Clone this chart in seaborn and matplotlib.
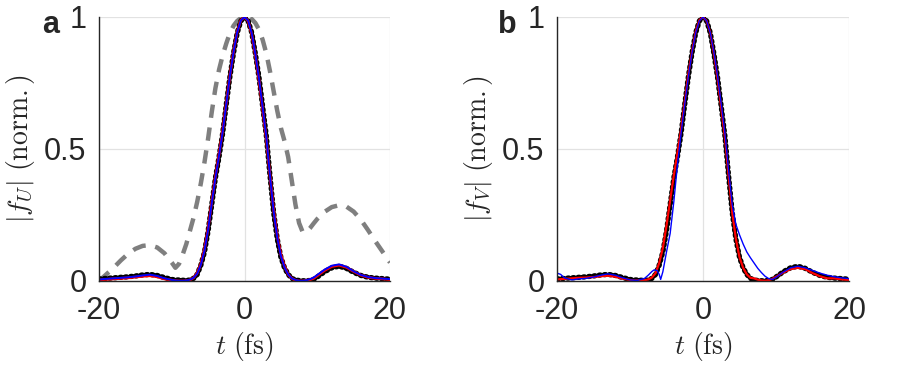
import numpy as np
import pandas as pd
import matplotlib
matplotlib.use("Agg")
import matplotlib.pyplot as plt
import seaborn as sns

# time samples (fs)
t = [-20, -19, -18, -17, -16, -15, -14, -13, -12, -11, -10,
     -9.5, -9, -8.5, -8, -7.5, -7, -6.5, -6, -5.5, -5, -4.5, -4, -3.5, -3, -2.5, -2, -1.5, -1, -0.5,
     0,
     0.5, 1, 1.5, 2, 2.5, 3, 3.5, 4, 4.5, 5, 5.5, 6, 6.5, 7, 7.5, 8, 8.5, 9, 9.5,
     10, 11, 12, 13, 14, 15, 16, 17, 18, 19, 20]

# target pulse (black dots), same in both panels
target = [0.008, 0.010, 0.012, 0.014, 0.016, 0.019, 0.023, 0.025, 0.021, 0.013, 0.006,
          0.004, 0.004, 0.003, 0.002, 0.004, 0.010, 0.025, 0.060, 0.110, 0.190, 0.290, 0.390, 0.470, 0.560, 0.670, 0.775, 0.865, 0.940, 0.985,
          1.0,
          0.985, 0.940, 0.860, 0.770, 0.660, 0.550, 0.400, 0.260, 0.160, 0.090, 0.050, 0.025, 0.010, 0.004, 0.002, 0.001, 0.001, 0.002, 0.006,
          0.015, 0.035, 0.050, 0.056, 0.048, 0.033, 0.021, 0.014, 0.011, 0.009, 0.007]

# panel a
gray_a = [0.0, 0.025, 0.05, 0.078, 0.103, 0.122, 0.133, 0.136, 0.127, 0.105, 0.07,
          0.05, 0.065, 0.1, 0.14, 0.19, 0.24, 0.3, 0.37, 0.45, 0.54, 0.64, 0.73, 0.8, 0.855, 0.9, 0.94, 0.967, 0.985, 0.996,
          1.0,
          1.0, 0.992, 0.977, 0.952, 0.913, 0.862, 0.795, 0.72, 0.645, 0.58, 0.53, 0.47, 0.38, 0.29, 0.22, 0.185, 0.185, 0.2, 0.218,
          0.235, 0.262, 0.28, 0.287, 0.282, 0.263, 0.232, 0.192, 0.15, 0.11, 0.07]
red_a = [0.004, 0.006, 0.008, 0.010, 0.012, 0.015, 0.018, 0.020, 0.016, 0.008, 0.003,
         0.001, 0.0, 0.0, 0.001, 0.004, 0.012, 0.030, 0.065, 0.120, 0.200, 0.300, 0.395, 0.480, 0.570, 0.675, 0.780, 0.870, 0.945, 0.988,
         1.0,
         0.985, 0.935, 0.855, 0.760, 0.650, 0.540, 0.400, 0.270, 0.170, 0.100, 0.055, 0.025, 0.010, 0.003, 0.0, 0.0, 0.002, 0.005, 0.010,
         0.020, 0.040, 0.055, 0.060, 0.052, 0.036, 0.022, 0.014, 0.010, 0.008, 0.005]
blue_a = [0.006, 0.008, 0.010, 0.012, 0.014, 0.017, 0.021, 0.024, 0.019, 0.010, 0.004,
          0.002, 0.001, 0.001, 0.002, 0.005, 0.012, 0.028, 0.062, 0.115, 0.195, 0.295, 0.390, 0.475, 0.565, 0.672, 0.778, 0.868, 0.943, 0.987,
          1.0,
          0.986, 0.938, 0.858, 0.765, 0.655, 0.545, 0.400, 0.265, 0.165, 0.095, 0.052, 0.025, 0.010, 0.004, 0.001, 0.001, 0.003, 0.007, 0.013,
          0.023, 0.043, 0.058, 0.063, 0.054, 0.037, 0.023, 0.015, 0.011, 0.009, 0.007]

# panel b
red_b = [0.006, 0.008, 0.010, 0.012, 0.013, 0.015, 0.018, 0.020, 0.016, 0.009, 0.004,
         0.002, 0.002, 0.002, 0.003, 0.006, 0.013, 0.030, 0.068, 0.125, 0.210, 0.305, 0.400, 0.485, 0.575, 0.680, 0.785, 0.870, 0.945, 0.988,
         1.0,
         0.985, 0.940, 0.860, 0.765, 0.655, 0.545, 0.400, 0.260, 0.160, 0.090, 0.050, 0.025, 0.012, 0.010, 0.005, 0.002, 0.001, 0.003, 0.008,
         0.016, 0.032, 0.045, 0.050, 0.045, 0.030, 0.018, 0.010, 0.010, 0.006, 0.003]
t_blue_b = [-20, -19.5, -19, -18, -17, -16, -15, -14, -13, -12, -11, -10,
            -9, -8, -7.5, -7, -6.7, -6.3, -6, -5.8, -5.5, -5.2, -5,
            -4.5, -4, -3.5, -3, -2.5, -2, -1.5, -1, -0.5,
            0,
            0.5, 1, 1.5, 2, 2.5, 3, 3.5, 4, 4.5, 5, 5.5, 6, 6.5, 7, 7.5, 8, 8.5, 9, 9.5,
            10, 11, 12, 13, 14, 15, 16, 17, 18, 19, 20]
blue_b = [0.030, 0.025, 0.012, 0.004, 0.008, 0.010, 0.015, 0.022, 0.027, 0.022, 0.012, 0.004,
          0.002, 0.010, 0.022, 0.036, 0.042, 0.040, 0.025, 0.006, 0.035, 0.080, 0.110,
          0.180, 0.300, 0.440, 0.560, 0.670, 0.775, 0.865, 0.940, 0.985,
          1.0,
          0.985, 0.940, 0.865, 0.775, 0.670, 0.560, 0.420, 0.290, 0.215, 0.175, 0.140, 0.110, 0.088, 0.068, 0.048, 0.032, 0.018, 0.009, 0.006,
          0.014, 0.034, 0.050, 0.056, 0.050, 0.040, 0.030, 0.022, 0.016, 0.012, 0.009]

xticks = [-20, 0, 20]
xticklabels = ['-20', '0', '20']
yticks = [0, 0.5, 1]
yticklabels = ['0', '0.5', '1']

sns.set_theme(style='white')
plt.rcParams['font.family'] = ['Liberation Sans', 'DejaVu Sans']
plt.rcParams['mathtext.fontset'] = 'cm'

fig = plt.figure(figsize=(9.02, 3.69), dpi=100)
ax_a = fig.add_axes([99/902, 88/369, 291/902, 264/369])
ax_b = fig.add_axes([557/902, 88/369, 292/902, 264/369])


def style_axis(ax, ylabel):
    ax.set_xlim(-20, 20)
    ax.set_ylim(0, 1)
    ax.set_xticks(xticks)
    ax.set_xticklabels(xticklabels)
    ax.set_yticks(yticks)
    ax.set_yticklabels(yticklabels)
    ax.grid(True, color='#e2e2e2', lw=0.9)
    ax.set_axisbelow(True)
    for s in ['top', 'right']:
        ax.spines[s].set_visible(False)
    for s in ['left', 'bottom']:
        ax.spines[s].set_color('#262626')
        ax.spines[s].set_linewidth(1.0)
    ax.tick_params(direction='in', length=4, width=0.8, colors='#262626',
                   labelsize=22, labelcolor='#262626')
    ax.tick_params(axis='x', pad=11)
    ax.tick_params(axis='y', pad=9)
    ax.set_xlabel(r'$t\ \mathrm{(fs)}$', fontsize=20, labelpad=3)
    ax.set_ylabel(ylabel, fontsize=20, labelpad=5)


def draw_target(ax):
    sns.lineplot(x=t, y=target, ax=ax, color='black', linewidth=3.8,
                 linestyle=(0, (0.25, 0.75)), dash_capstyle='round')


# panel a
sns.lineplot(x=t, y=gray_a, ax=ax_a, color='#7f7f7f', linewidth=3.2,
             linestyle=(0, (3, 2.2)))
draw_target(ax_a)
sns.lineplot(x=t, y=red_a, ax=ax_a, color='red', linewidth=2.0)
sns.lineplot(x=t, y=blue_a, ax=ax_a, color='blue', linewidth=1.4)
style_axis(ax_a, r'$|f_U|\ \mathrm{(norm.)}$')

# panel b
draw_target(ax_b)
sns.lineplot(x=t, y=red_b, ax=ax_b, color='red', linewidth=1.6)
sns.lineplot(x=t_blue_b, y=blue_b, ax=ax_b, color='blue', linewidth=1.0)
style_axis(ax_b, r'$|f_V|\ \mathrm{(norm.)}$')

fig.text(42/902, 1 - 33/369, 'a', fontsize=22, fontweight='bold', va='baseline')
fig.text(498/902, 1 - 33/369, 'b', fontsize=22, fontweight='bold', va='baseline')

fig.savefig('out.png', dpi=100)
